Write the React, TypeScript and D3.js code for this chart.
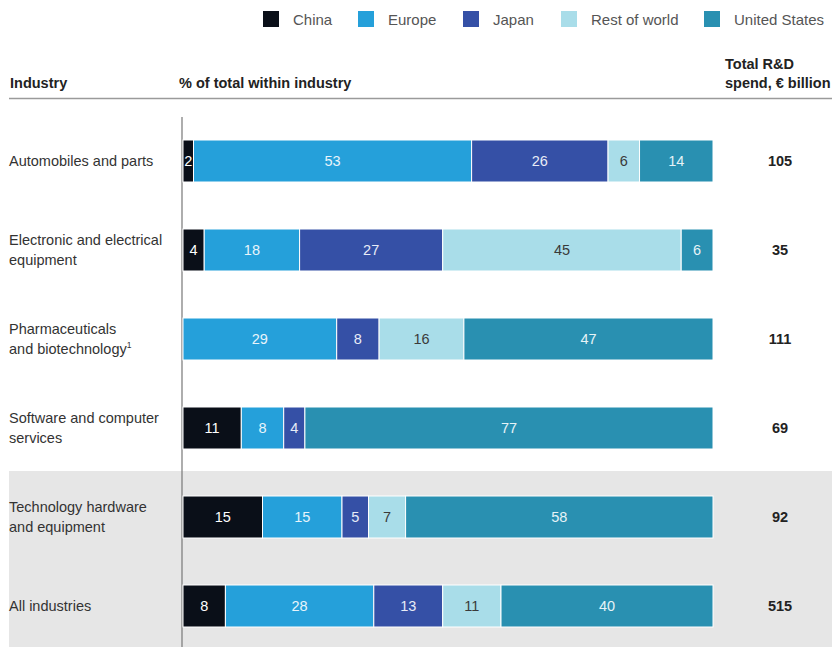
import React from "react";
import * as d3 from "d3";

const industries = [
  ["Automobiles and parts"],
  ["Electronic and electrical", "equipment"],
  ["Pharmaceuticals", "and biotechnology"],
  ["Software and computer", "services"],
  ["Technology hardware", "and equipment"],
  ["All industries"],
];
const footnoteRow = 2;
const regions = ["China", "Europe", "Japan", "Rest of world", "United States"];
const china = [2, 4, 0, 11, 15, 8];
const europe = [53, 18, 29, 8, 15, 28];
const japan = [26, 27, 8, 4, 5, 13];
const restOfWorld = [6, 45, 16, 0, 7, 11];
const unitedStates = [14, 6, 47, 77, 58, 40];
const totals = [105, 35, 111, 69, 92, 515];
const colors = ["#0a0f18", "#25a0da", "#3550a6", "#a9dde9", "#2990b1"];
const labelColors = ["#ffffff", "#e8f4fb", "#e8ecf7", "#3a3a3a", "#e6f3f7"];

const W = 832;
const H = 647;
const FONT = "'Liberation Sans', Arial, sans-serif";

export default function App() {
  const series = [china, europe, japan, restOfWorld, unitedStates];
  const rows = industries.map((_, i) => {
    const vals = series.map((s) => s[i]);
    const sum = d3.sum(vals);
    return { vals, sum };
  });
  const y = d3
    .scalePoint<number>()
    .domain(d3.range(industries.length))
    .range([161, 606]);
  const barH = 42;
  const x0 = 183;
  const x1 = 713;

  const legendX = [263, 358, 463, 561, 704];

  return (
    <svg
      width={W}
      height={H}
      style={{ position: "absolute", left: 0, top: 0, fontFamily: FONT }}
    >
      <rect x={0} y={0} width={W} height={H} fill="#fff" />
      {/* gray band */}
      <rect x={9} y={471} width={W - 9} height={H - 471} fill="#e6e6e6" />

      {/* legend */}
      {regions.map((r, i) => (
        <g key={r}>
          <rect x={legendX[i]} y={11} width={16} height={16} fill={colors[i]} />
          <text x={legendX[i] + 30} y={25} fontSize={15} fill="#555">
            {r}
          </text>
        </g>
      ))}

      {/* headers */}
      <text x={10} y={88} fontSize={14.5} fontWeight="bold" fill="#222">
        Industry
      </text>
      <text x={179} y={88} fontSize={14.5} fontWeight="bold" fill="#222">
        % of total within industry
      </text>
      <text x={725} y={69} fontSize={14.5} fontWeight="bold" fill="#222">
        Total R&amp;D
      </text>
      <text x={725} y={88} fontSize={14.5} fontWeight="bold" fill="#222">
        spend, € billion
      </text>
      <line x1={9} x2={W} y1={98.5} y2={98.5} stroke="#9a9a9a" strokeWidth={1.5} />

      {/* axis line */}
      <line x1={182} x2={182} y1={117} y2={H} stroke="#777" strokeWidth={1.2} />

      {rows.map((row, i) => {
        const xs = d3.scaleLinear().domain([0, row.sum]).range([x0, x1]);
        const cy = y(i) as number;
        let acc = 0;
        const segs = row.vals.map((v, k) => {
          const s = { k, v, start: acc, end: acc + v };
          acc += v;
          return s;
        });
        const lines = industries[i];
        const lh = 19.5;
        const firstBase = cy + 5 - ((lines.length - 1) * lh) / 2;
        return (
          <g key={i}>
            <text fontSize={14.5} fill="#333">
              {lines.map((l, j) => (
                <tspan key={j} x={9} y={firstBase + j * lh}>
                  {l}
                  {i === footnoteRow && j === lines.length - 1 ? (
                    <tspan fontSize={8.5} dy={-6}>
                      1
                    </tspan>
                  ) : null}
                </tspan>
              ))}
            </text>
            {segs
              .filter((s) => s.v > 0)
              .map((s) => (
                <g key={s.k}>
                  <rect
                    x={xs(s.start)}
                    y={cy - barH / 2}
                    width={xs(s.end) - xs(s.start)}
                    height={barH}
                    fill={colors[s.k]}
                    stroke="#fff"
                    strokeWidth={1}
                  />
                  <text
                    x={(xs(s.start) + xs(s.end)) / 2}
                    y={cy + 5}
                    textAnchor="middle"
                    fontSize={14.5}
                    fill={labelColors[s.k]}
                  >
                    {s.v}
                  </text>
                </g>
              ))}
            <text
              x={780}
              y={cy + 5}
              textAnchor="middle"
              fontSize={14.5}
              fontWeight="bold"
              fill="#222"
            >
              {totals[i]}
            </text>
          </g>
        );
      })}
    </svg>
  );
}
